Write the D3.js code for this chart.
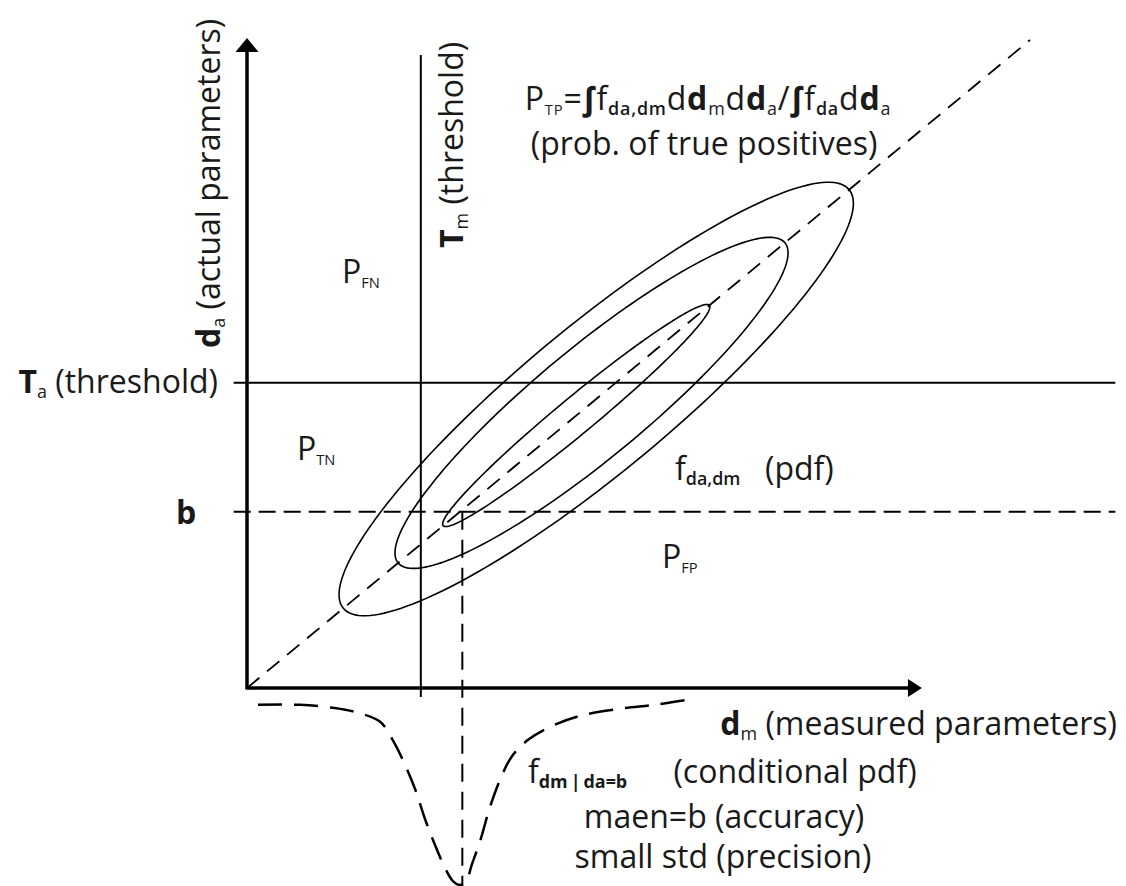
<!DOCTYPE html>
<html>
<head>
<meta charset="utf-8">
<script src="https://cdn.jsdelivr.net/npm/d3@7"></script>
<style>
  body { margin: 0; background: #fff; }
  svg { display: block; }
  text { font-family: "Open Sans", sans-serif; fill: #1a1a1a; }
</style>
</head>
<body>
<svg id="chart" width="1126" height="886"></svg>
<script>
// thresholds and mean, in data units (d_m on x, d_a on y)
const tmX = 2.22;
const taY = 4.71;
const bY = 2.72;
const meanX = 2.75;
const axisEnd = [8.62, 10.03];

// joint pdf contours, centred on the diagonal d_a = d_m
const ellipseCenter = [4.46, 4.40, 4.205];
const ellipseMajor = [3.23, 2.47, 1.70];
const ellipseMinor = [0.72, 0.54, 0.18];

// conditional pdf f(dm | da=b), drawn hanging below the x axis
const pdfX = [0.14, 0.68, 1.12, 1.44, 1.70, 1.86, 2.02, 2.15, 2.27, 2.40, 2.53, 2.63, 2.72,
  2.80, 2.87, 2.98, 3.10, 3.23, 3.38, 3.59, 3.87, 4.25, 4.76, 5.21, 5.59];
const pdfY = [-0.26, -0.26, -0.31, -0.39, -0.52, -0.80, -1.19, -1.57, -2.01, -2.42, -2.78, -2.98, -3.04,
  -2.98, -2.73, -2.35, -1.85, -1.42, -1.06, -0.80, -0.60, -0.43, -0.32, -0.26, -0.19];

const sx = d3.scaleLinear().domain([0, 10]).range([247, 1030]);
const sy = d3.scaleLinear().domain([0, 10]).range([688, 40]);

const svg = d3.select('svg#chart');
const g = svg.append('g').attr('fill', 'none').attr('stroke', '#000');

function hline(y, x0, x1) {
  return g.append('line').attr('x1', sx(x0)).attr('x2', sx(x1)).attr('y1', sy(y)).attr('y2', sy(y));
}
function vline(x, y0, y1) {
  return g.append('line').attr('x1', sx(x)).attr('x2', sx(x)).attr('y1', sy(y0)).attr('y2', sy(y1));
}

// threshold lines
vline(tmX, 9.77, -0.14).attr('stroke-width', 2);
hline(taY, -0.17, 11.09).attr('stroke-width', 2);
hline(bY, -0.17, 11.09).attr('stroke-width', 2).attr('stroke-dasharray', '17,8');
vline(meanX, bY, -3.1).attr('stroke-width', 2).attr('stroke-dasharray', '18,10');

// diagonal
g.append('line')
  .attr('x1', sx(0)).attr('y1', sy(0))
  .attr('x2', sx(10)).attr('y2', sy(10))
  .attr('stroke-width', 1.8)
  .attr('stroke-dasharray', '16,10');

// ellipses along the diagonal
const theta = Math.atan2(sy(0) - sy(1), sx(1) - sx(0));
const unit = Math.hypot(sx(1) - sx(0), sy(0) - sy(1));
const u = [Math.cos(theta), -Math.sin(theta)];
const v = [Math.sin(theta), Math.cos(theta)];
const ring = d3.range(0, 2 * Math.PI, Math.PI / 90);
const closed = d3.line().curve(d3.curveLinearClosed);

ellipseCenter.forEach((c, i) => {
  const cx = sx(c), cy = sy(c);
  const a = ellipseMajor[i] * unit, b = ellipseMinor[i] * unit;
  const pts = ring.map(t => [
    cx + a * Math.cos(t) * u[0] + b * Math.sin(t) * v[0],
    cy + a * Math.cos(t) * u[1] + b * Math.sin(t) * v[1]
  ]);
  g.append('path').attr('d', closed(pts)).attr('stroke-width', 1.6);
});

// conditional pdf
const pdfLine = d3.line()
  .x((d, i) => sx(pdfX[i]))
  .y(d => sy(d))
  .curve(d3.curveCatmullRom);
g.append('path')
  .attr('d', pdfLine(pdfY))
  .attr('stroke-width', 2.5)
  .attr('stroke-dasharray', '24,12');

// axes with arrowheads
g.append('line')
  .attr('x1', sx(0)).attr('y1', sy(0))
  .attr('x2', sx(axisEnd[0]) - 10).attr('y2', sy(0))
  .attr('stroke-width', 3.5);
g.append('line')
  .attr('x1', sx(0)).attr('y1', sy(0) + 1.5)
  .attr('x2', sx(0)).attr('y2', sy(axisEnd[1]) + 10)
  .attr('stroke-width', 3.5);
svg.append('path')
  .attr('d', `M${sx(axisEnd[0])},${sy(0)} l-14,-9 l0,18 z`)
  .attr('fill', '#000');
svg.append('path')
  .attr('d', `M${sx(0)},${sy(axisEnd[1])} l-11.5,14 l23,0 z`)
  .attr('fill', '#000');

// labels
const fs = 32;
function label(x, y, parts, anchor, rotate) {
  const t = svg.append('text')
    .attr('font-size', fs)
    .attr('text-anchor', anchor || 'start')
    .attr('transform', `translate(${x},${y})` + (rotate ? ' rotate(-90)' : ''));
  let shift = 0;
  parts.forEach(([str, kind]) => {
    const sub = kind[0] === 's';
    const target = sub ? 5 : 0;
    t.append('tspan')
      .attr('dy', target - shift)
      .attr('font-size', sub ? fs * (kind === 'sc' ? 0.46 : 0.56) : fs)
      .attr('font-weight', kind.includes('b') ? 700 : (kind === 'sw' ? 600 : 400))
      .text(str);
    shift = target;
  });
  return t;
}

label(708, 110, [['P', 'n'], ['TP', 'sc'], ['=', 'n'], ['\u222B', 'b'], ['f', 'n'], ['da,dm', 'sw'],
  ['d', 'n'], ['d', 'b'], ['m', 's'], ['d', 'n'], ['d', 'b'], ['a', 's'], ['/', 'n'], ['\u222B', 'b'],
  ['f', 'n'], ['da', 'sw'], ['d', 'n'], ['d', 'b'], ['a', 's']], 'middle')
  .attr('letter-spacing', 0.8);
label(704, 155, [['(prob. of true positives)', 'n']], 'middle');

label(463, 248, [['T', 'b'], ['m', 's'], [' (threshold)', 'n']], 'start', true);
label(220, 348, [['d', 'b'], ['a', 's'], [' (actual parameters)', 'n']], 'start', true);
label(218, 393, [['T', 'b'], ['a', 's'], [' (threshold)', 'n']], 'end');
label(186, 524, [['b', 'b']], 'middle');

label(342, 283, [['P', 'n'], ['FN', 'sc']]);
label(297, 460, [['P', 'n'], ['TN', 'sc']]);
label(662, 568, [['P', 'n'], ['FP', 'sc']]);
label(675, 480, [['f', 'n'], ['da,dm', 'sw']]);
label(765, 480, [['(pdf)', 'n']]);

label(1117, 735, [['d', 'b'], ['m', 's'], [' (measured parameters)', 'n']], 'end');
label(528, 783, [['f', 'n'], ['dm\u2009|\u2009da=b', 'sb']]);
label(795, 783, [['(conditional pdf)', 'n']], 'middle');
label(724, 828, [['maen=b (accuracy)', 'n']], 'middle');
label(723, 868, [['small std (precision)', 'n']], 'middle');
</script>
</body>
</html>
